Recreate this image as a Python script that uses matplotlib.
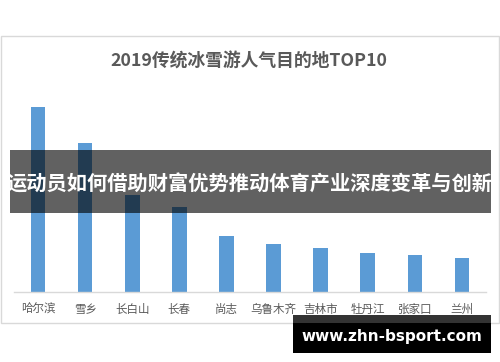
import matplotlib
matplotlib.use("Agg")
import matplotlib.pyplot as plt
from matplotlib.patches import Rectangle

plt.rcParams['font.family'] = ['Noto Sans CJK SC', 'DejaVu Sans']

categories = ["哈尔滨", "雪乡", "长白山", "长春", "尚志", "乌鲁木齐", "吉林市", "牡丹江", "张家口", "兰州"]
values = [185, 149, 97, 85, 56, 48, 44, 39, 37, 34]
title = "2019传统冰雪游人气目的地TOP10"
banner = "运动员如何借助财富优势推动体育产业深度变革与创新"
watermark = "www.zhn-bsport.com"

W, H = 500, 362
fig = plt.figure(figsize=(W / 100, H / 100), dpi=100)
fig.patch.set_facecolor("white")

# chart border box
fig.patches.append(Rectangle((0.5 / W, 1 - 323 / H), 498.5 / W, (323 - 36) / H,
                             transform=fig.transFigure, fill=False,
                             edgecolor="#d9d9d9", linewidth=1.0))

# axes: x 14.5..485.5 px, baseline at 292 px, top at 100 px
ax = fig.add_axes([14.5 / W, 1 - 292 / H, 471 / W, 192 / H])
ax.set_xlim(-0.5, len(categories) - 0.5)
ax.set_ylim(0, 192)
ax.bar(range(len(categories)), values, width=0.31, color="#5b9bd5", zorder=2)
ax.set_facecolor("none")
for s in ["top", "right", "left"]:
    ax.spines[s].set_visible(False)
ax.spines["bottom"].set_color("#d9d9d9")
ax.spines["bottom"].set_linewidth(1.0)
ax.set_yticks([])
ax.set_xticks(range(len(categories)))
ax.set_xticklabels(categories, fontsize=8.3, color="#595959")
ax.tick_params(axis="x", length=0, pad=8)

fig.text(249 / W, 1 - 62 / H, title, ha="center", va="center",
         fontsize=12.8, fontweight="bold", color="#595959")

# banner overlay
fig.patches.append(Rectangle((10 / W, 1 - 213 / H), 481 / W, 63 / H,
                             transform=fig.transFigure, facecolor="black",
                             alpha=0.62, edgecolor="none", zorder=5))
fig.text(250 / W, 1 - 184 / H, banner, ha="center", va="center",
         fontsize=14.6, fontweight="bold", color="white", zorder=6)

# watermark box
fig.patches.append(Rectangle((293 / W, 1 - 353 / H), 198 / W, 38 / H,
                             transform=fig.transFigure, facecolor="black",
                             edgecolor="none", zorder=5))
fig.patches.append(Rectangle((293 / W, 1 - 323 / H), 198 / W, 8 / H,
                             transform=fig.transFigure, facecolor="#333333",
                             edgecolor="none", zorder=5))
fig.text(392 / W, 1 - 337 / H, watermark, ha="center", va="center",
         fontsize=11, fontweight="bold", color="white", zorder=6,
         family="DejaVu Sans")

fig.savefig("out.png", dpi=100)
